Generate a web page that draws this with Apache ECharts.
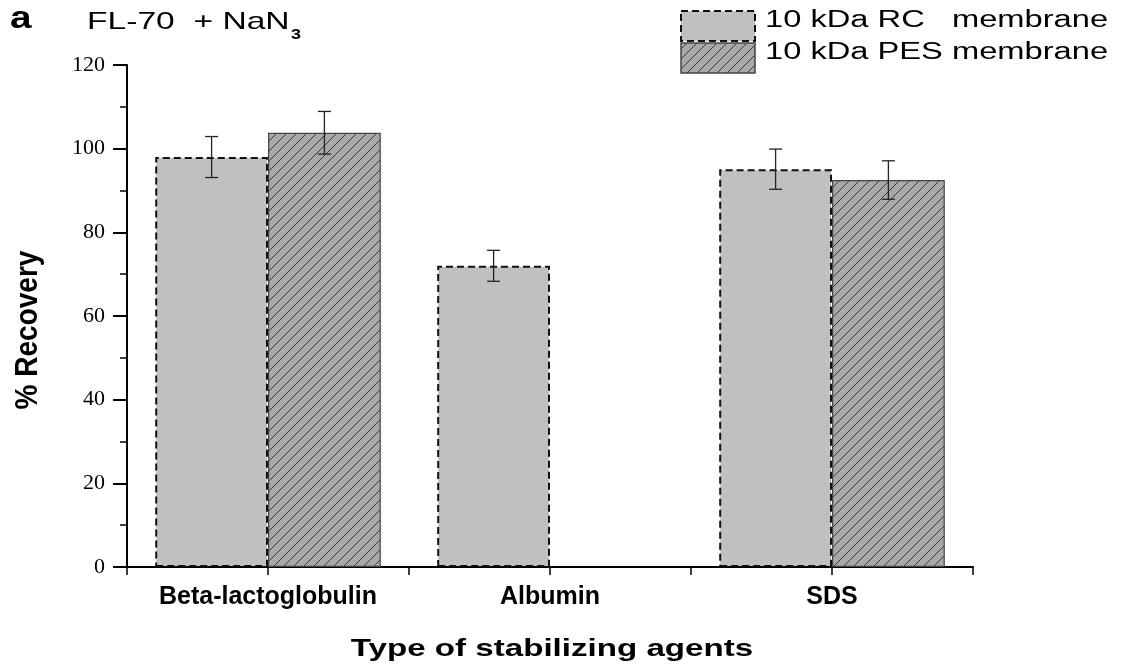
<!DOCTYPE html>
<html>
<head>
<meta charset="utf-8">
<script src="https://cdn.jsdelivr.net/npm/echarts@6/dist/echarts.min.js"></script>
<style>
html, body { margin: 0; padding: 0; background: #fff; }
#main { width: 1126px; height: 668px; }
</style>
</head>
<body>
<div id="main"></div>
<script>
// data
var categories = ['Beta-lactoglobulin', 'Albumin', 'SDS'];
var rcValues = [98.0, 72.0, 95.1];
var rcErrors = [4.9, 3.7, 4.8];
var pesValues = [103.8, null, 92.5];
var pesErrors = [5.1, null, 4.6];
var seriesNames = ['10 kDa RC   membrane', '10 kDa PES membrane'];
var yMin = 0, yMax = 120, yStep = 20;

var sans = '"Liberation Sans", Arial, sans-serif';

// hatch fill for the PES bars
function makeHatch() {
    var c = document.createElement('canvas');
    c.width = 10;
    c.height = 10;
    var ctx = c.getContext('2d');
    ctx.fillStyle = '#a8a8a8';
    ctx.fillRect(0, 0, 10, 10);
    ctx.strokeStyle = '#3a3a3a';
    ctx.lineWidth = 1;
    ctx.beginPath();
    ctx.moveTo(-1, 11); ctx.lineTo(11, -1);
    ctx.moveTo(-6, 6); ctx.lineTo(6, -6);
    ctx.moveTo(4, 16); ctx.lineTo(16, 4);
    ctx.stroke();
    return c;
}
var hatch = { image: makeHatch(), repeat: 'repeat' };

/**
 * error bars, shifted to the middle of each bar of the group
 */
function errorSeries(values, errors, shift) {
    var data = [];
    for (var i = 0; i < values.length; i++) {
        if (values[i] == null) continue;
        data.push([i, values[i] - errors[i], values[i] + errors[i]]);
    }
    return {
        type: 'custom',
        silent: true,
        z: 10,
        encode: { x: 0, y: [1, 2] },
        data: data,
        renderItem: function (params, api) {
            var band = api.size([1, 0])[0];
            var lo = api.coord([api.value(0), api.value(1)]);
            var hi = api.coord([api.value(0), api.value(2)]);
            var x = lo[0] + shift * band;
            var cap = 6.5;
            var st = { stroke: '#222', lineWidth: 1.3 };
            return {
                type: 'group',
                children: [
                    { type: 'line', shape: { x1: x, y1: lo[1], x2: x, y2: hi[1] }, style: st },
                    { type: 'line', shape: { x1: x - cap, y1: hi[1], x2: x + cap, y2: hi[1] }, style: st },
                    { type: 'line', shape: { x1: x - cap, y1: lo[1], x2: x + cap, y2: lo[1] }, style: st }
                ]
            };
        }
    };
}

var chart = echarts.init(document.getElementById('main'), null, { renderer: 'canvas' });

var option = {
    backgroundColor: '#fff',
    animation: false,
    grid: { left: 127, right: 153, top: 65, bottom: 101 },
    xAxis: [{
        type: 'category',
        data: categories,
        axisLine: { lineStyle: { color: '#000', width: 2 } },
        axisTick: { show: false },
        axisLabel: {
            interval: 0,
            hideOverlap: false,
            margin: 18,
            color: '#000',
            fontFamily: sans,
            fontWeight: 'bold',
            fontSize: 25
        }
    }, {
        // only used for the tick marks between and under the groups
        type: 'category',
        position: 'bottom',
        data: ['', '', '', '', '', ''],
        axisLine: { show: false },
        axisLabel: { show: false },
        axisTick: { show: true, length: 8, lineStyle: { color: '#000', width: 1.5 } }
    }],
    yAxis: {
        type: 'value',
        min: yMin,
        max: yMax,
        interval: yStep,
        splitLine: { show: false },
        axisLine: { show: true, lineStyle: { color: '#000', width: 2 } },
        axisTick: { show: true, length: 14, lineStyle: { color: '#000', width: 2 } },
        minorTick: { show: true, splitNumber: 2, length: 7, lineStyle: { color: '#000', width: 1.5 } },
        axisLabel: {
            margin: 22,
            color: '#000',
            fontFamily: '"Liberation Serif", "Times New Roman", serif',
            fontSize: 22
        }
    },
    series: [{
        name: seriesNames[0],
        type: 'bar',
        barWidth: '40%',
        barGap: '0%',
        data: rcValues,
        itemStyle: {
            color: '#c0c0c0',
            borderColor: '#111',
            borderWidth: 2,
            borderType: [7, 4]
        }
    }, {
        name: seriesNames[1],
        type: 'bar',
        barWidth: '40%',
        barGap: '0%',
        data: pesValues,
        itemStyle: {
            color: hatch,
            borderColor: '#444',
            borderWidth: 1.2
        }
    },
        errorSeries(rcValues, rcErrors, -0.2),
        errorSeries(pesValues, pesErrors, 0.2)
    ],
    graphic: [
        // panel letter and title
        { type: 'text', x: 10, y: 4, scaleX: 1.25,
          style: { text: 'a', font: 'bold 31px ' + sans, fill: '#000' } },
        { type: 'text', x: 87, y: 10, scaleX: 1.4,
          style: { text: 'FL-70  + NaN', font: '24px ' + sans, fill: '#000' } },
        { type: 'text', x: 291, y: 27, scaleX: 1.2,
          style: { text: '3', font: 'bold 15px ' + sans, fill: '#000' } },
        // legend
        { type: 'rect', shape: { x: 681, y: 11, width: 74, height: 30 },
          style: { fill: '#c0c0c0', stroke: '#111', lineWidth: 2, lineDash: [7, 4] } },
        { type: 'rect', shape: { x: 681, y: 43, width: 74, height: 30 },
          style: { fill: hatch, stroke: '#444', lineWidth: 1.5 } },
        { type: 'text', x: 765, y: 9, scaleX: 1.42,
          style: { text: seriesNames[0], font: '23px ' + sans, fill: '#000' } },
        { type: 'text', x: 765, y: 41, scaleX: 1.42,
          style: { text: seriesNames[1], font: '23px ' + sans, fill: '#000' } },
        // axis names
        { type: 'text', x: 28, y: 330, rotation: Math.PI / 2, scaleY: 1.15,
          style: { text: '% Recovery', font: 'bold 28px ' + sans, fill: '#000',
                   textAlign: 'center', textVerticalAlign: 'middle' } },
        { type: 'text', x: 552, y: 649, scaleX: 1.38,
          style: { text: 'Type of stabilizing agents', font: 'bold 24px ' + sans, fill: '#000',
                   textAlign: 'center', textVerticalAlign: 'middle' } }
    ]
};

chart.setOption(option);
</script>
</body>
</html>
